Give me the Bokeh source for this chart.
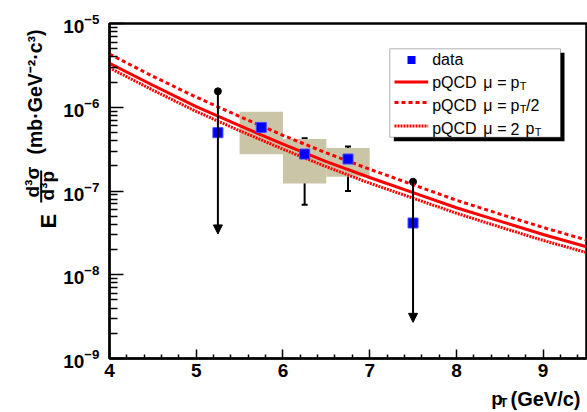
import math
from bokeh.plotting import figure
from bokeh.layouts import row, column
from bokeh.models import (Range1d, FixedTicker, LogTickFormatter, Label, BoxAnnotation,
                          Arrow, NormalHead, Whisker, TeeHead, ColumnDataSource)
from bokeh.embed import file_html
from bokeh.resources import INLINE

# ---------------- data ----------------
pt_curve = [4.0, 4.5, 5.0, 5.5, 6.0, 6.5, 7.0, 7.5, 8.0, 8.5, 9.0, 9.5]
pqcd_mu_pt = [3.35e-6, 1.83e-6, 1.02e-6, 6.03e-7, 3.63e-7, 2.24e-7, 1.45e-7, 9.55e-8,
              6.31e-8, 4.37e-8, 3.02e-8, 2.16e-8]
pqcd_mu_half = [4.32e-6, 2.34e-6, 1.32e-6, 7.76e-7, 4.62e-7, 2.85e-7, 1.82e-7, 1.19e-7,
                7.76e-8, 5.31e-8, 3.67e-8, 2.60e-8]
pqcd_mu_two = [2.95e-6, 1.60e-6, 8.91e-7, 5.25e-7, 3.16e-7, 1.95e-7, 1.24e-7, 8.22e-8,
               5.43e-8, 3.72e-8, 2.57e-8, 1.84e-8]

pt_data = [5.25, 5.75, 6.25, 6.75, 7.5]
yield_data = [4.97e-7, 5.74e-7, 2.76e-7, 2.41e-7, 4.15e-8]

pt_meas = [5.75, 6.25, 6.75]
stat_hi = [8.15e-7, 4.25e-7, 3.40e-7]
stat_lo = [2.89e-7, 6.87e-8, 1.00e-7]
bin_lo = [5.5, 6.0, 6.5]
bin_hi = [6.0, 6.5, 7.0]
sys_hi = [8.83e-7, 4.17e-7, 3.26e-7]
sys_lo = [2.74e-7, 1.23e-7, 1.48e-7]

pt_ul = [5.25, 7.5]
ul_top = [1.55e-6, 1.29e-7]
ul_bottom = [3.07e-8, 2.7e-9]

x_major = [4, 5, 6, 7, 8, 9]
y_major = [1e-9, 1e-8, 1e-7, 1e-6, 1e-5]

RED = "#ff0000"

# ---------------- main figure ----------------
p = figure(width=527, height=388, x_range=Range1d(4, 9.5), y_range=Range1d(1e-9, 1e-5),
           y_axis_type="log", output_backend="svg", toolbar_location=None,
           min_border_left=49, min_border_right=1, min_border_top=23, min_border_bottom=30)
p.grid.visible = False
p.outline_line_color = "black"
p.outline_line_width = 2.5
p.background_fill_color = "white"
p.border_fill_color = "white"

x_minor = [4 + 0.2 * i for i in range(28) if i % 5 != 0]
y_minor = [k * 10.0 ** e for e in range(-9, -5) for k in range(2, 10)]

p.xaxis.ticker = FixedTicker(ticks=x_major, minor_ticks=x_minor)
p.yaxis.ticker = FixedTicker(ticks=y_major, minor_ticks=y_minor)
p.yaxis.formatter = LogTickFormatter()

for ax in (p.xaxis, p.yaxis):
    ax.axis_line_width = 2
    ax.axis_line_color = "black"
    ax.major_tick_out = 0
    ax.minor_tick_out = 0
    ax.major_tick_line_width = 1.5
    ax.minor_tick_line_width = 1.5
    ax.major_label_text_font = "Liberation Sans"
    ax.major_label_text_font_style = "bold"
    ax.major_label_text_font_size = "19px"
    ax.major_label_text_color = "black"
p.xaxis.major_tick_in = 9
p.xaxis.minor_tick_in = 4
p.yaxis.major_tick_in = 14
p.yaxis.minor_tick_in = 8
p.xaxis.major_label_standoff = 5
p.yaxis.major_label_standoff = 10

# systematic boxes
p.quad(left=bin_lo, right=bin_hi, top=sys_hi, bottom=sys_lo,
       fill_color="#cbc5a8", line_color=None)

# statistical error bars
err_src = ColumnDataSource(dict(x=pt_meas, upper=stat_hi, lower=stat_lo))
p.add_layout(Whisker(base="x", upper="upper", lower="lower", source=err_src,
                     line_color="black", line_width=2,
                     upper_head=TeeHead(size=6, line_width=2, line_color="black"),
                     lower_head=TeeHead(size=6, line_width=2, line_color="black")))

# upper limits
ul_src = ColumnDataSource(dict(x=pt_ul, top=ul_top, bottom=ul_bottom))
p.add_layout(Arrow(x_start="x", y_start="top", x_end="x", y_end="bottom", source=ul_src,
                   line_color="black", line_width=2,
                   end=NormalHead(size=9, fill_color="black", line_color="black", line_width=1)))
p.scatter(x="x", y="top", source=ul_src, marker="circle", size=7,
          fill_color="black", line_color="black")

# pQCD curves
p.line(pt_curve, pqcd_mu_pt, line_color=RED, line_width=3)
p.line(pt_curve, pqcd_mu_half, line_color=RED, line_width=3, line_dash="4 3")
p.line(pt_curve, pqcd_mu_two, line_color=RED, line_width=3, line_dash="2 1")

# data points
p.scatter(pt_data, yield_data, marker="square", size=10, fill_color="#0000ff",
          line_color="#4444ff", line_width=1)

# ---------------- legend (positions given in page pixels) ----------------
def rx(px):
    return 4 + (px - 109) / (586 - 109) * 5.5

def ry(py):
    return 10 ** (-5 - (py - 23) / (358 - 23) * 4)

def plab(fig, text, x, y, size, bold=False, align="left", baseline="alphabetic", angle=0.0):
    fig.add_layout(Label(x=x, y=y, text=text, text_font="Liberation Sans",
                         text_font_size=size, text_font_style="bold" if bold else "normal",
                         text_align=align, text_baseline=baseline, angle=angle,
                         text_color="black"))

def pseg(fig, x0, y0, x1, y1, color="black", width=1, dash="solid"):
    fig.add_layout(Arrow(x_start=x0, y_start=y0, x_end=x1, y_end=y1, end=None,
                         line_color=color, line_width=width, line_dash=dash))

p.add_layout(BoxAnnotation(left=rx(393.3), right=rx(564), top=ry(52.3), bottom=ry(140.7),
                           fill_color="black", fill_alpha=1.0, line_color=None))
p.add_layout(BoxAnnotation(left=rx(389.3), right=rx(560), top=ry(48.3), bottom=ry(136.7),
                           fill_color="white", fill_alpha=1.0, line_color="black", line_width=1))
p.add_layout(BoxAnnotation(left=rx(407), right=rx(415), top=ry(55.5), bottom=ry(63.5),
                           fill_color="#0000ff", fill_alpha=1.0, line_color=None))
pseg(p, rx(394), ry(81.5), rx(427.7), ry(81.5), RED, 3)
pseg(p, rx(394), ry(102), rx(427.7), ry(102), RED, 3, "4 3")
pseg(p, rx(394), ry(125.5), rx(427.7), ry(125.5), RED, 3, "2 1")

fs = "16px"
dy = -5
plab(p, "data", rx(431.7), ry(64 + dy), fs)
for base in (87.0, 110.0, 133.0):
    plab(p, "pQCD", rx(431.7), ry(base + dy), fs)
    plab(p, "\u03bc", rx(482.7), ry(base + dy), fs)
    plab(p, "=", rx(496.7), ry(base + dy), fs)
plab(p, "p", rx(510), ry(87 + dy), fs)
plab(p, "T", rx(519.3), ry(90 + dy), "11px")
plab(p, "p", rx(510), ry(110 + dy), fs)
plab(p, "T", rx(519.3), ry(113 + dy), "11px")
plab(p, "/2", rx(525.5), ry(110 + dy), fs)
plab(p, "2", rx(510), ry(133 + dy), fs)
plab(p, "p", rx(525), ry(133 + dy), fs)
plab(p, "T", rx(534.3), ry(136 + dy), "11px")

# ---------------- y axis title panel (page x 0-60) ----------------
yfig = figure(width=60, height=412, x_range=Range1d(0, 60), y_range=Range1d(412, 0),
              x_axis_type=None, y_axis_type=None, output_backend="svg", toolbar_location=None,
              min_border=0, outline_line_color=None)
yfig.grid.visible = False
rot = math.pi / 2
plab(yfig, "(mb\u00b7GeV\u207b\u00b2\u00b7c\u00b3)", 34, 154, "19.5px", True, "left", "alphabetic", rot)
plab(yfig, "d\u00b3\u03c3", 32, 197, "19px", True, "left", "alphabetic", rot)
plab(yfig, "d\u00b3p", 47, 200, "19px", True, "left", "alphabetic", rot)
pseg(yfig, 40.7, 170, 40.7, 202, width=2)
plab(yfig, "E", 48, 228, "22px", True, "left", "alphabetic", rot)

# ---------------- x axis title panel (page x 60-587, y 388-412) ----------------
xfig = figure(width=527, height=24, x_range=Range1d(60, 587), y_range=Range1d(412, 388),
              x_axis_type=None, y_axis_type=None, output_backend="svg", toolbar_location=None,
              min_border=0, outline_line_color=None)
xfig.grid.visible = False
plab(xfig, "p", 481.7, 398, "19px", True)
plab(xfig, "T", 491.5, 402, "12px", True)
plab(xfig, "(GeV/c)", 503, 398, "20px", True)

layout = row(yfig, column(p, xfig))
open("out.html", "w").write(file_html(layout, INLINE))
